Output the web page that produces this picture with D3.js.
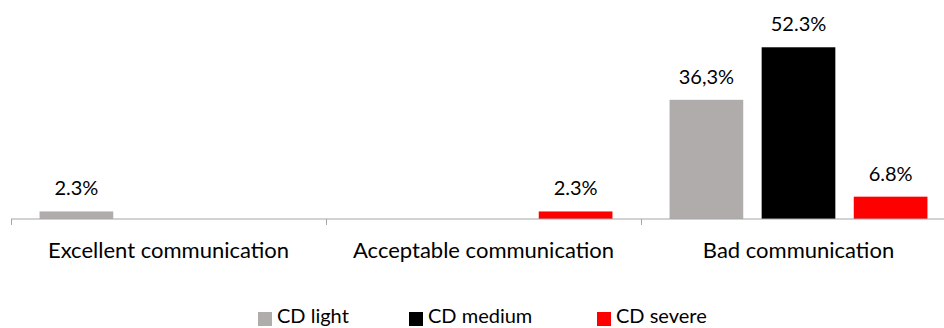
<!DOCTYPE html>
<html>
<head>
<meta charset="utf-8">
<script src="https://cdn.jsdelivr.net/npm/d3@7"></script>
<style>
  html, body { margin: 0; padding: 0; background: #fff; }
  svg { display: block; font-family: "Lato", "Open Sans", sans-serif; }
</style>
</head>
<body>
<svg id="chart" width="944" height="328"></svg>
<script>
// Communication quality by CD severity
const categories = ["Excellent communication", "Acceptable communication", "Bad communication"];
const seriesNames = ["CD light", "CD medium", "CD severe"];
const seriesColors = ["#b0acab", "#000000", "#ff0000"];
const cdLight  = [2.3, 0, 36.3];
const cdMedium = [0, 0, 52.3];
const cdSevere = [0, 2.3, 6.8];
const cdLightLabels  = ["2.3%", null, "36,3%"];
const cdMediumLabels = [null, null, "52.3%"];
const cdSevereLabels = [null, "2.3%", "6.8%"];

const seriesValues = [cdLight, cdMedium, cdSevere];
const seriesLabels = [cdLightLabels, cdMediumLabels, cdSevereLabels];

const svg = d3.select("#chart");
const baseY = 219;

const x0 = d3.scaleBand().domain(categories).range([11, 956]).padding(0);
const x1 = d3.scaleBand().domain(seriesNames).range([0, x0.bandwidth()])
  .paddingInner(0.2).paddingOuter(0.31);
const y = d3.scaleLinear().domain([0, 60]).range([baseY, 22]);

const groups = svg.selectAll("g.cat")
  .data(categories)
  .join("g")
  .attr("class", "cat")
  .attr("transform", d => `translate(${x0(d)},0)`);

groups.each(function(cat, ci) {
  const g = d3.select(this);
  seriesNames.forEach((s, si) => {
    const v = seriesValues[si][ci];
    if (v > 0) {
      g.append("rect")
        .attr("x", x1(s))
        .attr("y", y(v))
        .attr("width", x1.bandwidth())
        .attr("height", y(0) - y(v))
        .attr("fill", seriesColors[si]);
    }
    const lbl = seriesLabels[si][ci];
    if (lbl) {
      g.append("text")
        .attr("x", x1(s) + x1.bandwidth() / 2)
        .attr("y", y(v) - 16)
        .attr("text-anchor", "middle")
        .attr("font-size", 20)
        .attr("fill", "#000")
        .text(lbl);
    }
  });
});

// Category axis
const axis = svg.append("g")
  .attr("transform", `translate(0,${baseY})`)
  .call(d3.axisBottom(x0).tickSize(0).tickPadding(23));
axis.select(".domain").attr("stroke", "#a6a6a6").attr("stroke-width", 1.2)
  .attr("d", `M${x0.range()[0]},0H${x0.range()[1]}`);
axis.selectAll(".tick text")
  .attr("font-size", 22)
  .attr("font-family", "Lato, 'Open Sans', sans-serif")
  .attr("fill", "#000");

// Group separators
const bounds = categories.map(c => x0(c));
axis.selectAll("line.sep")
  .data(bounds)
  .join("line")
  .attr("class", "sep")
  .attr("x1", d => Math.round(d) + 0.5).attr("x2", d => Math.round(d) + 0.5)
  .attr("y1", 0).attr("y2", 6)
  .attr("stroke", "#a6a6a6").attr("stroke-width", 1);

// Legend
const legendX = [258, 409, 597];
const legend = svg.append("g");
seriesNames.forEach((s, i) => {
  legend.append("rect")
    .attr("x", legendX[i]).attr("y", 312)
    .attr("width", 14).attr("height", 14)
    .attr("fill", seriesColors[i]);
  legend.append("text")
    .attr("x", legendX[i] + 19).attr("y", 323)
    .attr("font-size", 20)
    .attr("fill", "#000")
    .text(s);
});
</script>
</body>
</html>
